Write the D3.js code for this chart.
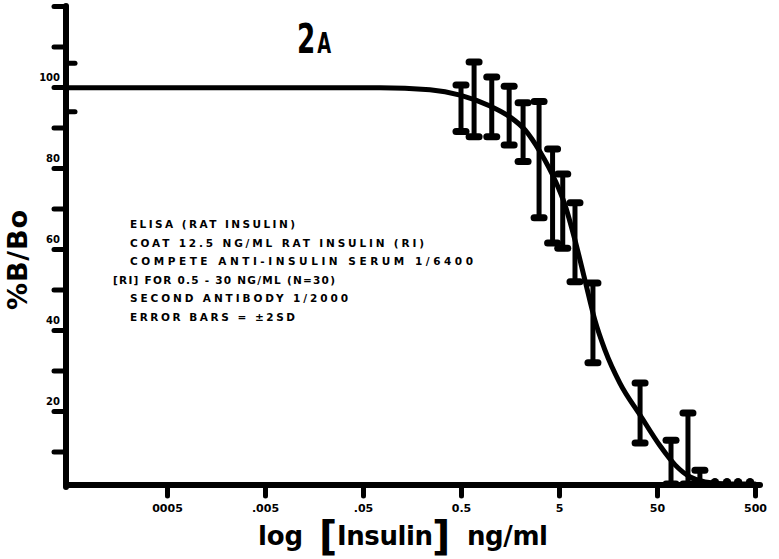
<!DOCTYPE html>
<html><head><meta charset="utf-8">
<script src="https://cdn.jsdelivr.net/npm/d3@7/dist/d3.min.js"></script>
<style>body{margin:0;background:#fff}</style>
</head><body><svg id="c" width="779" height="559"></svg>
<script>
// ---- data ----
const xTickValues = [0.0005, 0.005, 0.05, 0.5, 5, 50, 500];
const xTickLabels = ["0005", ".005", ".05", "0.5", "5", "50", "500"];
const yTickValues = [10, 20, 30, 40, 50, 60, 70, 80, 90, 100, 110, 120];
const yLabelValues = [20, 40, 60, 80, 100];
const yLabelTexts = ["20", "40", "60", "80", "100"];
const yRightTicks = [94, 106];

// fitted curve (ng/ml, %B/Bo)
const curveConc = [0.0000466, 0.0745, 0.241, 0.489, 0.99, 1.58, 2.25, 3.2, 4.55, 5.75, 7.28, 9.2, 11.6, 14.7, 20.9, 33.6, 53.7, 76.4, 109, 155, 278, 500];
const curvePct  = [99.8, 99.8, 99.3, 98.0, 95.3, 92.6, 89.4, 84.0, 77.0, 70.9, 62.2, 52.3, 42.5, 35.1, 26.9, 19.0, 11.4, 6.7, 3.7, 2.5, 2.0, 2.0];

// error bars (±2SD)
const barConc = [0.5, 0.68, 1.03, 1.55, 2.15, 3.13, 4.3, 5.46, 7.28, 11.1, 33.6, 69.5, 103.5, 137];
const barLow  = [89.0, 87.7, 87.7, 85.7, 81.6, 67.7, 61.5, 60.2, 51.9, 31.9, 12.1, 2.0, 2.0, 2.0];
const barHigh = [100.5, 106.2, 102.5, 100.2, 96.1, 96.4, 84.7, 78.5, 71.4, 51.6, 26.9, 12.8, 19.5, 5.4];

// highest doses: points with negligible spread, sitting on the baseline
const lowConc = [195, 259, 336, 445];
const lowPct  = [2.4, 2.4, 2.4, 2.4];

const noteLines = [
  "ELISA (RAT INSULIN)",
  "COAT 12.5 NG/ML RAT INSULIN (RI)",
  "COMPETE ANTI-INSULIN SERUM 1/6400",
  "[RI] FOR 0.5 - 30 NG/ML (N=30)",
  "SECOND ANTIBODY 1/2000",
  "ERROR BARS = ±2SD"
];
const noteX = [130, 130, 130, 113, 130, 130];
const noteW = [165, 294, 343, 222, 218, 165];

// ---- drawing ----
const svg = d3.select("#c");
const F = "'DejaVu Sans', Arial, sans-serif";
const x = d3.scaleLog().domain([0.0000466, 500]).range([66, 755]);
const y = d3.scaleLinear().domain([0, 120]).range([492, 6]);
const axisY = 485;

// x axis
const gx = svg.append("g").attr("transform", `translate(0,${axisY})`)
  .call(d3.axisBottom(x).tickValues(xTickValues)
    .tickFormat((d, i) => xTickLabels[i]).tickSize(11).tickSizeOuter(0));
gx.select(".domain").remove();
gx.selectAll(".tick line").attr("stroke", "#000").attr("stroke-width", 5).attr("stroke-linecap", "round");
gx.selectAll(".tick text").attr("y", 19).attr("font-family", F).attr("font-weight", "bold")
  .attr("font-size", 11).attr("fill", "#000");
svg.append("line").attr("x1", 66).attr("x2", 760).attr("y1", axisY).attr("y2", axisY)
  .attr("stroke", "#000").attr("stroke-width", 6).attr("stroke-linecap", "round");

// y axis
const gy = svg.append("g").attr("transform", "translate(66,0)")
  .call(d3.axisLeft(y).tickValues(yTickValues)
    .tickFormat(d => { const k = yLabelValues.indexOf(d); return k >= 0 ? yLabelTexts[k] : ""; })
    .tickSize(12).tickSizeOuter(0));
gy.select(".domain").remove();
gy.selectAll(".tick line").attr("stroke", "#000").attr("stroke-width", 5).attr("stroke-linecap", "round");
gy.selectAll(".tick text").attr("x", -6).attr("y", -7).attr("dy", 0)
  .attr("font-family", F).attr("font-weight", "bold").attr("font-size", 10).attr("fill", "#000");
svg.append("g").attr("transform", "translate(66,0)")
  .call(d3.axisRight(y).tickValues(yRightTicks).tickSize(9).tickFormat(""))
  .call(g => g.select(".domain").remove())
  .selectAll(".tick line").attr("stroke", "#000").attr("stroke-width", 5).attr("stroke-linecap", "round");
svg.append("line").attr("x1", 66).attr("x2", 66).attr("y1", y(120)).attr("y2", axisY + 2)
  .attr("stroke", "#000").attr("stroke-width", 6).attr("stroke-linecap", "round");

// curve
const curveData = curveConc.map((c, i) => ({c, p: curvePct[i]}));
svg.append("path").datum(curveData)
  .attr("d", d3.line().x(d => x(d.c)).y(d => y(d.p)).curve(d3.curveMonotoneX))
  .attr("fill", "none").attr("stroke", "#000").attr("stroke-width", 5)
  .attr("stroke-linejoin", "round").attr("stroke-linecap", "round");

// error bars
const bars = barConc.map((c, i) => ({c, lo: barLow[i], hi: barHigh[i]}));
const gb = svg.append("g").attr("stroke", "#000").attr("stroke-linecap", "round");
gb.selectAll("line.v").data(bars).join("line").attr("class", "v")
  .attr("x1", d => x(d.c)).attr("x2", d => x(d.c))
  .attr("y1", d => y(d.lo)).attr("y2", d => y(d.hi)).attr("stroke-width", 5);
gb.selectAll("line.t").data(bars).join("line").attr("class", "t")
  .attr("x1", d => x(d.c) - 5).attr("x2", d => x(d.c) + 5)
  .attr("y1", d => y(d.hi)).attr("y2", d => y(d.hi)).attr("stroke-width", 7);
gb.selectAll("line.b").data(bars).join("line").attr("class", "b")
  .attr("x1", d => x(d.c) - 5).attr("x2", d => x(d.c) + 5)
  .attr("y1", d => y(d.lo)).attr("y2", d => y(d.lo)).attr("stroke-width", 7);

// baseline points
svg.append("g").selectAll("circle").data(lowConc.map((c, i) => ({c, p: lowPct[i]}))).join("circle")
  .attr("cx", d => x(d.c)).attr("cy", d => y(d.p)).attr("r", 4.2).attr("fill", "#000");

// panel label
const pl = svg.append("text").attr("transform", "translate(297,53) scale(0.64,1)")
  .attr("font-family", F).attr("font-weight", "bold");
pl.append("tspan").attr("font-size", 41).text("2");
pl.append("tspan").attr("font-size", 28).attr("dx", 3).text("A");

// notes
const noteY0 = 228, noteDy = 18.5;
noteLines.forEach((t, i) => {
  svg.append("text").attr("x", noteX[i]).attr("y", noteY0 + i * noteDy).text(t)
    .attr("font-family", F).attr("font-weight", "bold").attr("font-size", 10.5)
    .attr("textLength", noteW[i]).attr("lengthAdjust", "spacing");
});

// axis titles
svg.append("text").attr("transform", "translate(27,260) rotate(-90)")
  .attr("text-anchor", "middle").text("%B/Bo")
  .attr("font-family", F).attr("font-weight", "bold").attr("font-size", 27)
  .attr("textLength", 100).attr("lengthAdjust", "spacing");
const tb = 545;
svg.append("text").attr("x", 258).attr("y", tb).text("log")
  .attr("font-family", F).attr("font-weight", "bold").attr("font-size", 26)
  .attr("textLength", 45).attr("lengthAdjust", "spacing");
svg.append("text").attr("x", 319).attr("y", tb + 5).text("[")
  .attr("font-family", F).attr("font-weight", "bold").attr("font-size", 40);
svg.append("text").attr("x", 337).attr("y", tb).text("Insulin")
  .attr("font-family", F).attr("font-weight", "bold").attr("font-size", 26)
  .attr("textLength", 96).attr("lengthAdjust", "spacing");
svg.append("text").attr("x", 432).attr("y", tb + 5).text("]")
  .attr("font-family", F).attr("font-weight", "bold").attr("font-size", 40);
svg.append("text").attr("x", 467).attr("y", tb).text("ng/ml")
  .attr("font-family", F).attr("font-weight", "bold").attr("font-size", 26)
  .attr("textLength", 81).attr("lengthAdjust", "spacing");
</script></body></html>
